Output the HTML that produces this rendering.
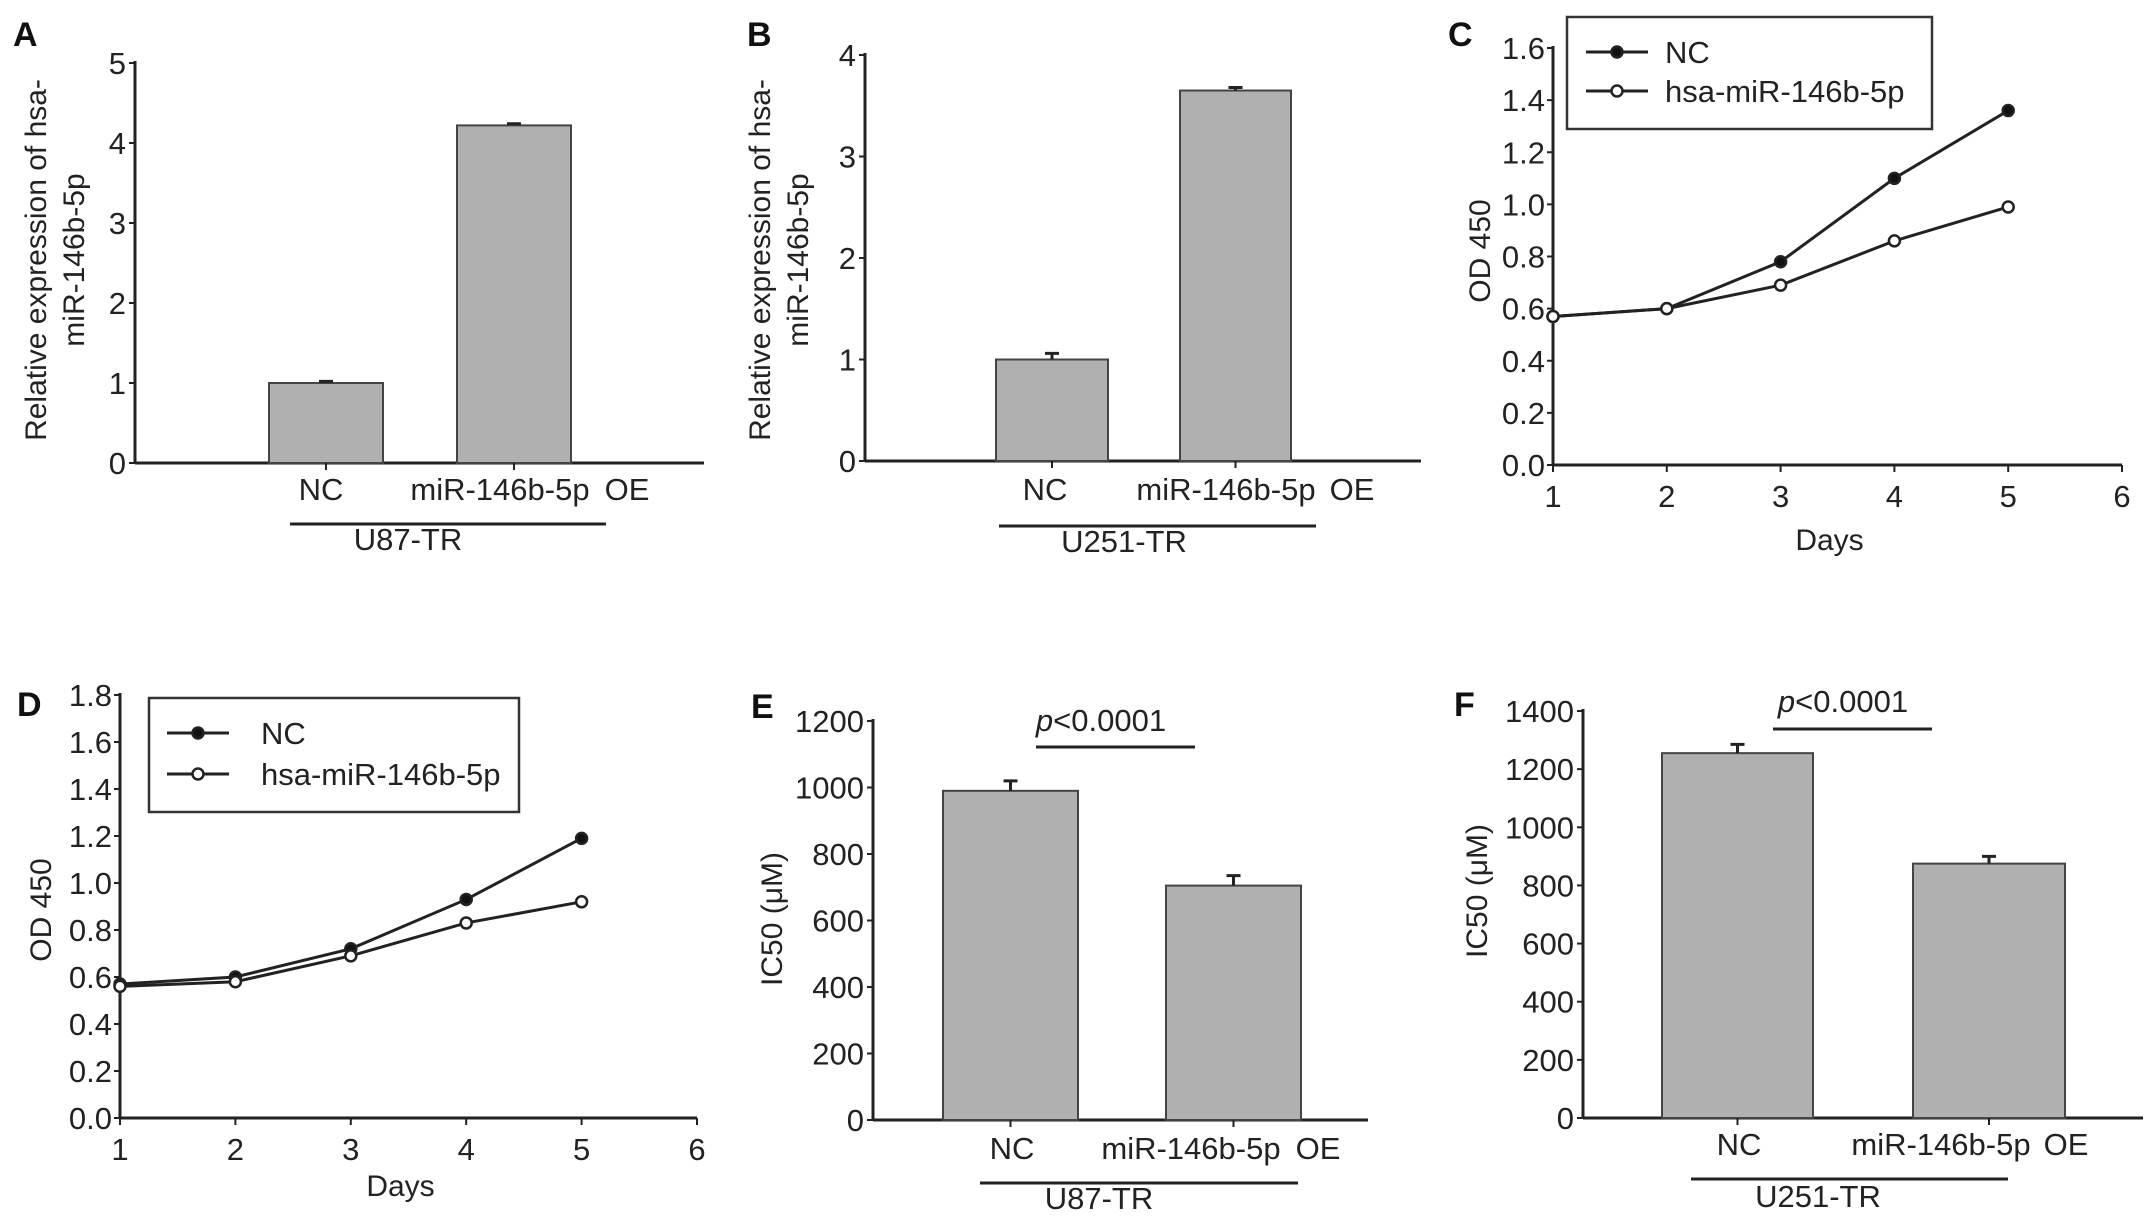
<!DOCTYPE html>
<html><head><meta charset="utf-8">
<style>
html,body{margin:0;padding:0;background:#fff;overflow:hidden;}
svg{display:block;}
text{font-family:"Liberation Sans",Arial,sans-serif;fill:#222;}
.tick{font-size:31px;}
.lab{font-size:31px;}
.title{font-size:30px;}
.panel{font-size:34px;font-weight:bold;fill:#111;}
</style></head>
<body>
<svg id="fig" width="2150" height="1221" viewBox="0 0 2150 1221" xmlns="http://www.w3.org/2000/svg"></svg>
<script>
// ---- Data ----
const barCats = ["NC", "miR-146b-5p"];
const aValues = [1.0, 4.22];
const aErrors = [0.02, 0.02];
const aTicks = [0, 1, 2, 3, 4, 5];
const bValues = [1.0, 3.65];
const bErrors = [0.06, 0.03];
const bTicks = [0, 1, 2, 3, 4];
const eValues = [990, 705];
const eErrors = [30, 30];
const eTicks = [0, 200, 400, 600, 800, 1000, 1200];
const fValues = [1255, 875];
const fErrors = [30, 25];
const fTicks = [0, 200, 400, 600, 800, 1000, 1200, 1400];
const days = [1, 2, 3, 4, 5];
const dayTicks = [1, 2, 3, 4, 5, 6];
const cNC = [0.57, 0.60, 0.78, 1.10, 1.36];
const cMiR = [0.57, 0.60, 0.69, 0.86, 0.99];
const cTicks = ["0.0","0.2","0.4","0.6","0.8","1.0","1.2","1.4","1.6"];
const dNC = [0.57, 0.60, 0.72, 0.93, 1.19];
const dMiR = [0.56, 0.58, 0.69, 0.83, 0.92];
const dTicks = ["0.0","0.2","0.4","0.6","0.8","1.0","1.2","1.4","1.6","1.8"];
const seriesNames = ["NC", "hsa-miR-146b-5p"];

const NS = "http://www.w3.org/2000/svg";
const svg = document.getElementById('fig');
function el(tag, attrs, parent, txt){
  const e = document.createElementNS(NS, tag);
  for (const k in attrs) e.setAttribute(k, attrs[k]);
  if (txt !== undefined) e.textContent = txt;
  (parent || svg).appendChild(e);
  return e;
}
function group(name){
  const g = el('g', {});
  
  
  return g;
}

function barPanel(cfg){
  const g = group(cfg.name);
  const ys = v => cfg.y0 - (v - cfg.tmin) / (cfg.tmax - cfg.tmin) * (cfg.y0 - cfg.ytop);
  const pl = el('text', {x: cfg.letter[1], y: cfg.letter[2], class: 'panel'}, g, cfg.letter[0]);
  
  
  const ya = el('line', {x1: cfg.ax, y1: ys(cfg.tmax) - 2, x2: cfg.ax, y2: cfg.y0, stroke: '#222', 'stroke-width': 3}, g);
  
  
  const xa = el('line', {x1: cfg.ax, y1: cfg.y0, x2: cfg.xend, y2: cfg.y0, stroke: '#222', 'stroke-width': 3}, g);
  
  
  cfg.ticks.forEach(t => {
    const y = ys(t);
    el('line', {x1: cfg.ax - 6, y1: y, x2: cfg.ax, y2: y, stroke: '#222', 'stroke-width': 2}, g);
    const tl = el('text', {x: cfg.ax - 9, y: y + 11, 'text-anchor': 'end', class: 'tick'}, g, String(t));
    
    
  });
  cfg.values.forEach((v, i) => {
    const x0 = cfg.bars[i][0], x1 = cfg.bars[i][1], cx = (x0 + x1) / 2;
    const r = el('rect', {x: x0, y: ys(v), width: x1 - x0, height: cfg.y0 - ys(v), fill: '#b0b0b0', stroke: '#444', 'stroke-width': 2}, g);
    
    
    const ye = ys(v + cfg.errors[i]);
    const eb = el('path', {d: `M${cx},${ys(v)}V${ye}M${cx-7},${ye}H${cx+7}`, stroke: '#222', 'stroke-width': 3, fill: 'none'}, g);
    
    
    el('line', {x1: cx, y1: cfg.y0, x2: cx, y2: cfg.y0 + 7, stroke: '#222', 'stroke-width': 2}, g);
  });
  const labs = cfg.catx;
  barCats.forEach((c, i) => {
    const t = el('text', {x: labs[i], y: cfg.laby, 'text-anchor': 'middle', class: 'lab'}, g, c);
    
    
  });
  const oe = el('text', {x: labs[2], y: cfg.laby, 'text-anchor': 'middle', class: 'lab'}, g, 'OE');
  
  
  const ul = el('line', {x1: cfg.ul[0], y1: cfg.ul[2], x2: cfg.ul[1], y2: cfg.ul[2], stroke: '#222', 'stroke-width': 3}, g);
  
  
  const gl = el('text', {x: cfg.grp[1], y: cfg.grp[2], 'text-anchor': 'middle', class: 'lab'}, g, cfg.grp[0]);
  
  
  const yt = el('text', {transform: `translate(${cfg.yt[0]},${cfg.yt[1]}) rotate(-90)`, 'text-anchor': 'middle', class: 'title'}, g);
  
  
  cfg.ytLines.forEach((s, i) => el('tspan', {x: 0, dy: i === 0 ? 0 : 38}, yt, s));
  if (cfg.p) {
    const pt = el('text', {x: cfg.p[0], y: cfg.p[1], 'text-anchor': 'middle', class: 'lab'}, g);
    
    
    el('tspan', {'font-style': 'italic'}, pt, 'p');
    el('tspan', {}, pt, '<0.0001');
    const pl2 = el('line', {x1: cfg.p[2], y1: cfg.p[4], x2: cfg.p[3], y2: cfg.p[4], stroke: '#222', 'stroke-width': 3}, g);
    
    
  }
}

function linePanel(cfg){
  const g = group(cfg.name);
  const tmax = parseFloat(cfg.ticks[cfg.ticks.length - 1]);
  const ys = v => cfg.y0 - v / tmax * (cfg.y0 - cfg.ytop);
  const xs = d => cfg.ax + (d - 1) / 5 * (cfg.x6 - cfg.ax);
  const pl = el('text', {x: cfg.letter[1], y: cfg.letter[2], class: 'panel'}, g, cfg.letter[0]);
  
  
  const ya = el('line', {x1: cfg.ax, y1: cfg.ytop - 2, x2: cfg.ax, y2: cfg.y0, stroke: '#222', 'stroke-width': 3}, g);
  
  
  const xa = el('line', {x1: cfg.ax, y1: cfg.y0, x2: cfg.x6, y2: cfg.y0, stroke: '#222', 'stroke-width': 3}, g);
  
  
  cfg.ticks.forEach(t => {
    const y = ys(parseFloat(t));
    el('line', {x1: cfg.ax - 6, y1: y, x2: cfg.ax, y2: y, stroke: '#222', 'stroke-width': 2}, g);
    const tl = el('text', {x: cfg.ax - 8, y: y + 11, 'text-anchor': 'end', class: 'tick'}, g, t);
    
    
  });
  dayTicks.forEach(d => {
    const x = xs(d);
    el('line', {x1: x, y1: cfg.y0, x2: x, y2: cfg.y0 + 7, stroke: '#222', 'stroke-width': 2}, g);
    const tl = el('text', {x: x, y: cfg.y0 + 42, 'text-anchor': 'middle', class: 'tick'}, g, String(d));
    
    
  });
  const xt = el('text', {x: xs(3.5) - 8, y: cfg.daysY, 'text-anchor': 'middle', class: 'title'}, g, 'Days');
  
  
  const yt = el('text', {transform: `translate(${cfg.yt[0]},${cfg.yt[1]}) rotate(-90)`, 'text-anchor': 'middle', class: 'title'}, g, 'OD 450');
  
  
  [cfg.nc, cfg.mir].forEach((vals, si) => {
    const pts = vals.map((v, i) => xs(days[i]) + ',' + ys(v)).join(' ');
    const ln = el('polyline', {points: pts, fill: 'none', stroke: '#222', 'stroke-width': 3}, g);
    
    
    vals.forEach((v, i) => {
      const c = el('circle', {cx: xs(days[i]), cy: ys(v), r: 5.5, fill: si === 0 ? '#111' : '#fff', stroke: '#222', 'stroke-width': 2.5}, g);
      
      
    });
  });
  const L = cfg.legend;
  const lg = el('g', {}, g);
  
  
  el('rect', {x: L.x, y: L.y, width: L.w, height: L.h, fill: '#fff', stroke: '#333', 'stroke-width': 2.5}, lg);
  seriesNames.forEach((s, i) => {
    const yy = L.rows[i];
    const le = el('g', {}, lg);
    
    
    el('line', {x1: L.lx, y1: yy, x2: L.lx + 62, y2: yy, stroke: '#222', 'stroke-width': 3}, le);
    el('circle', {cx: L.lx + 31, cy: yy, r: 5.5, fill: i === 0 ? '#111' : '#fff', stroke: '#222', 'stroke-width': 2.5}, le);
    el('text', {x: L.tx, y: yy + 11, class: 'lab'}, le, s);
  });
}

barPanel({name: 'panel-a', letter: ['A', 13, 46], ax: 135, y0: 463, ytop: 63, tmin: 0, tmax: 5, xend: 704,
  ticks: aTicks, values: aValues, errors: aErrors, bars: [[269, 383], [457, 571]],
  catx: [321, 500, 627], laby: 500, ul: [290, 606, 524], grp: ['U87-TR', 408, 550],
  yt: [46, 260], ytLines: ['Relative expression of hsa-', 'miR-146b-5p']});
barPanel({name: 'panel-b', letter: ['B', 747, 46], ax: 865, y0: 461, ytop: 55, tmin: 0, tmax: 4, xend: 1421,
  ticks: bTicks, values: bValues, errors: bErrors, bars: [[996, 1108], [1180, 1291]],
  catx: [1045, 1226, 1352], laby: 500, ul: [999, 1316, 526], grp: ['U251-TR', 1124, 552],
  yt: [770, 260], ytLines: ['Relative expression of hsa-', 'miR-146b-5p']});
barPanel({name: 'panel-e', letter: ['E', 751, 718], ax: 873, y0: 1120, ytop: 721, tmin: 0, tmax: 1200, xend: 1368,
  ticks: eTicks, values: eValues, errors: eErrors, bars: [[943, 1078], [1166, 1301]],
  catx: [1012, 1191, 1318], laby: 1159, ul: [980, 1298, 1183], grp: ['U87-TR', 1099, 1209],
  yt: [782, 919], ytLines: ['IC50 (\u03bcM)'], p: [1101, 731, 1036, 1195, 747]});
barPanel({name: 'panel-f', letter: ['F', 1454, 716], ax: 1583, y0: 1118, ytop: 711, tmin: 0, tmax: 1400, xend: 2143,
  ticks: fTicks, values: fValues, errors: fErrors, bars: [[1662, 1813], [1913, 2065]],
  catx: [1739, 1941, 2066], laby: 1155, ul: [1691, 2008, 1179], grp: ['U251-TR', 1818, 1207],
  yt: [1487, 891], ytLines: ['IC50 (\u03bcM)'], p: [1843, 712, 1773, 1932, 729]});
linePanel({name: 'panel-c', letter: ['C', 1448, 46], ax: 1553, y0: 465, ytop: 48, x6: 2122,
  ticks: cTicks, nc: cNC, mir: cMiR, daysY: 550, yt: [1490, 251],
  legend: {x: 1567, y: 17, w: 365, h: 112, rows: [52, 91], lx: 1586, tx: 1665}});
linePanel({name: 'panel-d', letter: ['D', 17, 716], ax: 120, y0: 1118, ytop: 695, x6: 697,
  ticks: dTicks, nc: dNC, mir: dMiR, daysY: 1196, yt: [51, 910],
  legend: {x: 149, y: 698, w: 370, h: 114, rows: [733, 774], lx: 167, tx: 261}});
</script>
</body></html>
